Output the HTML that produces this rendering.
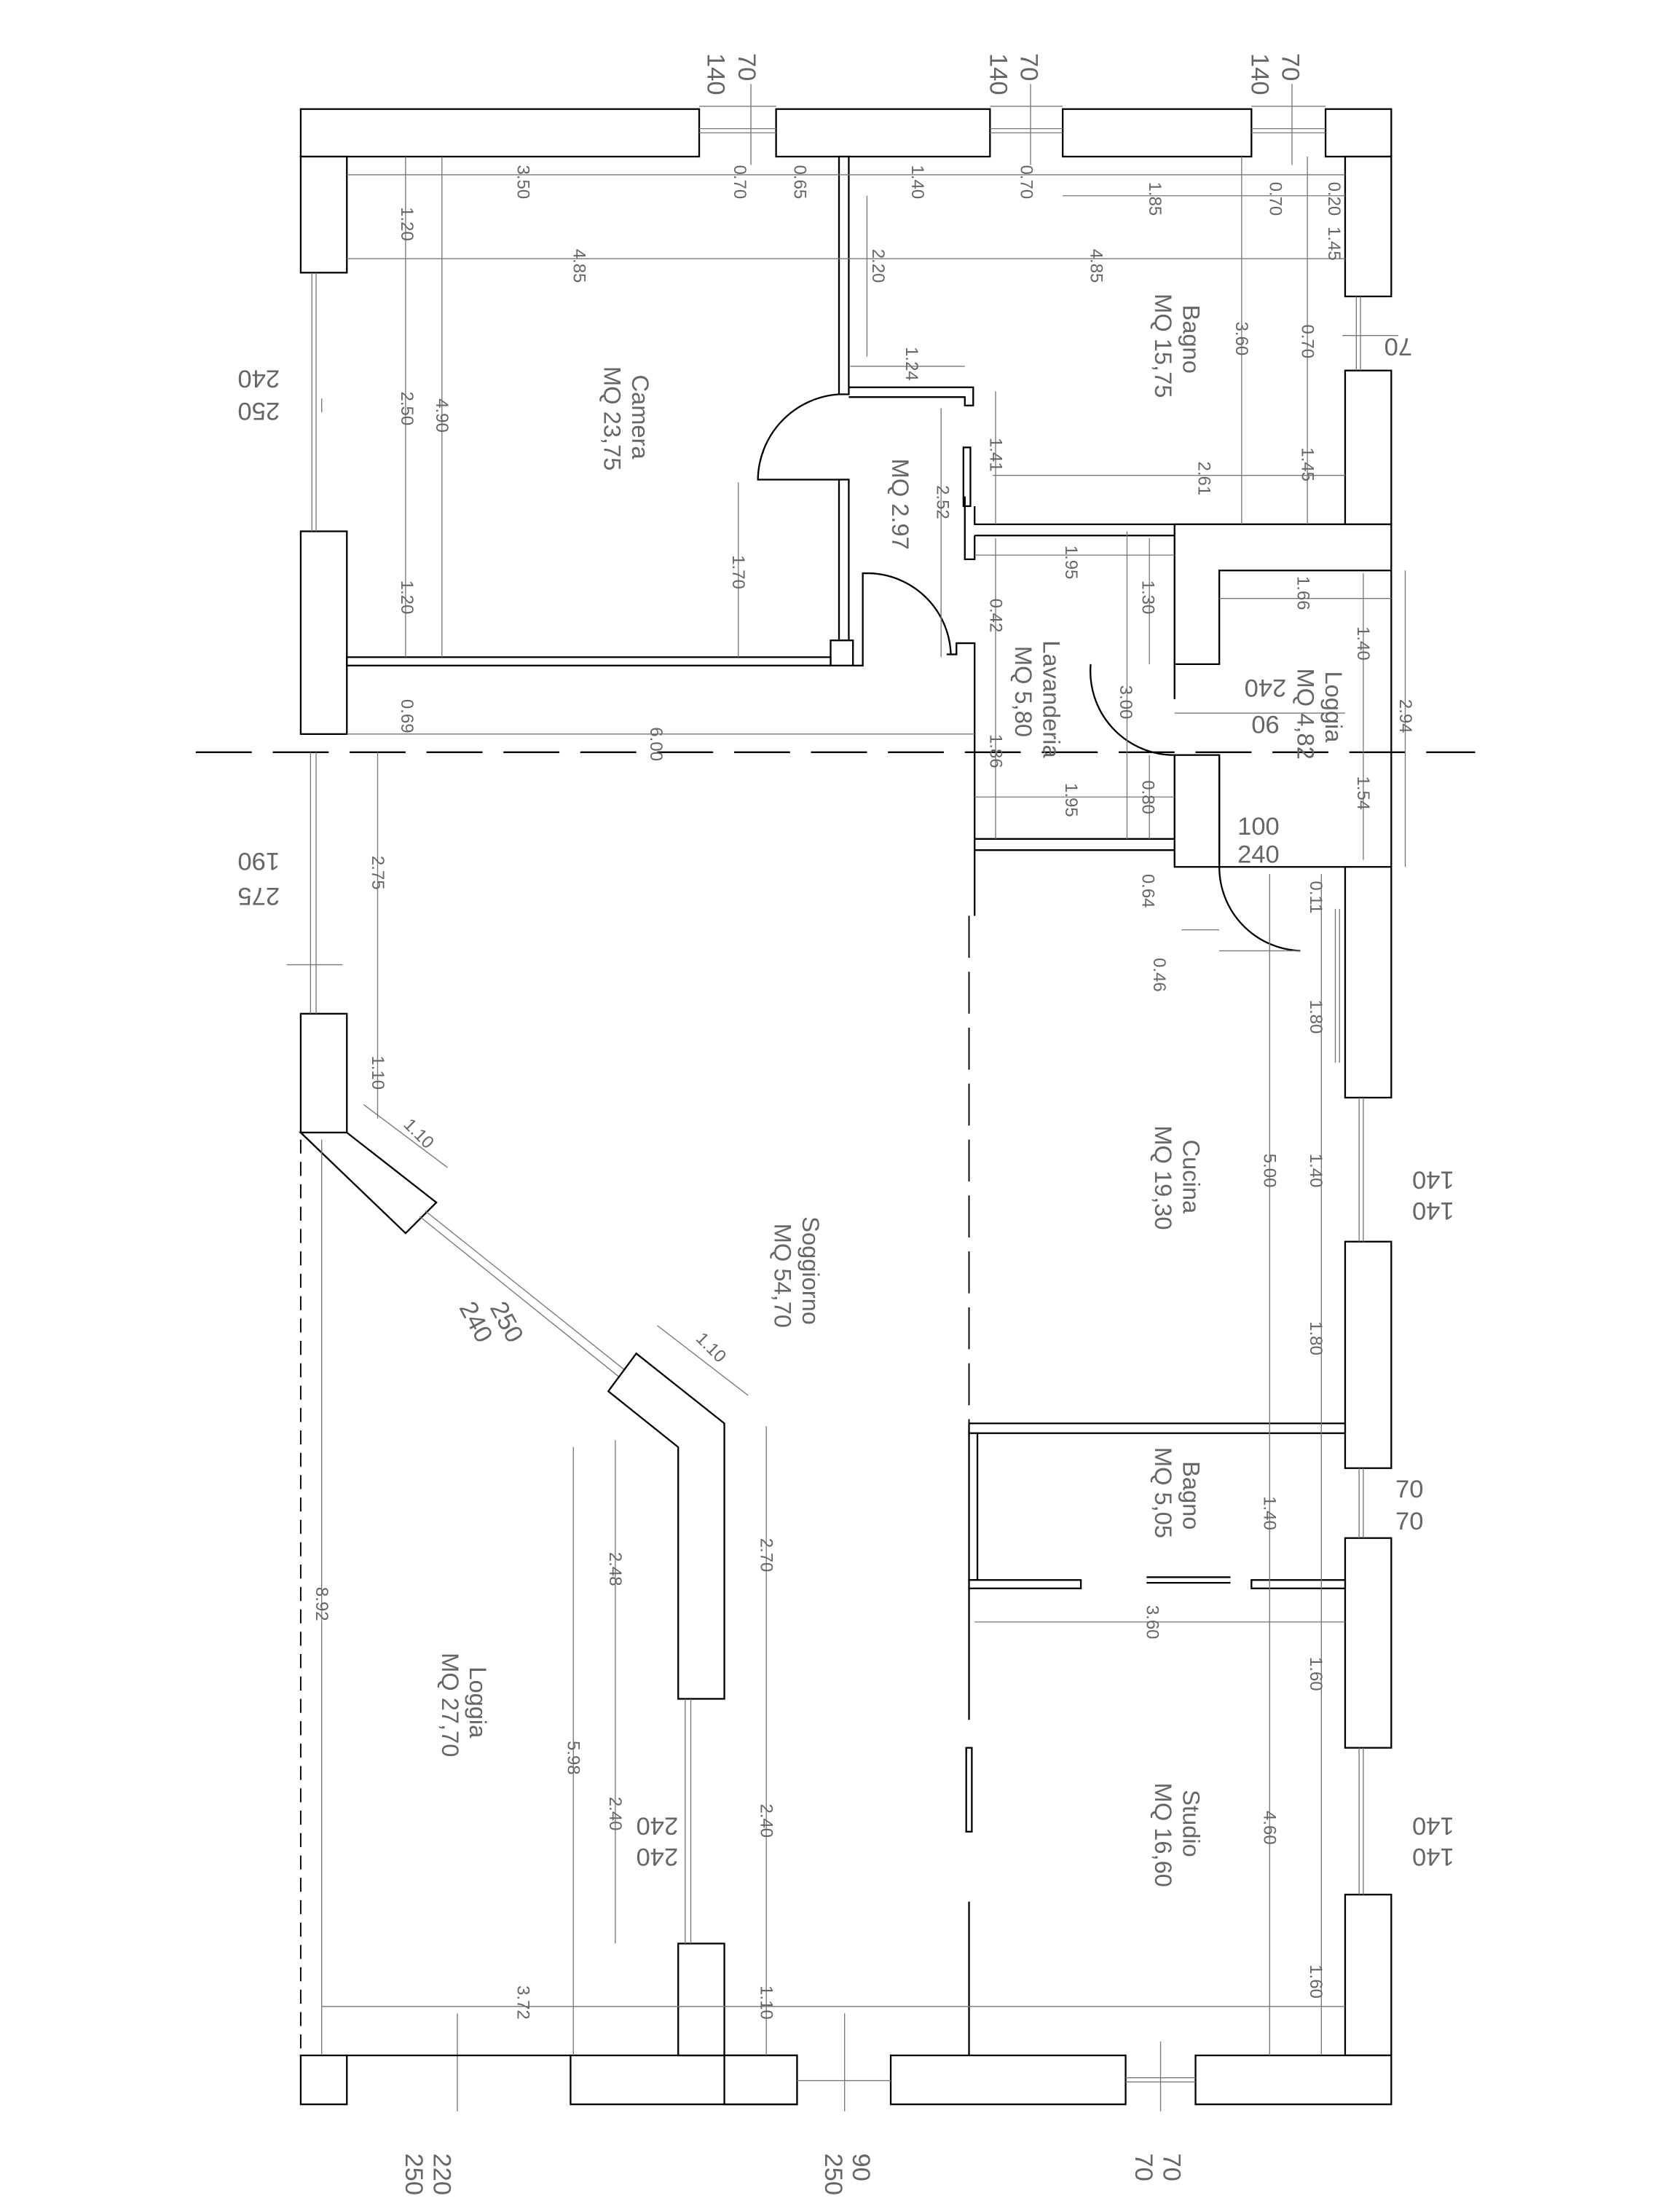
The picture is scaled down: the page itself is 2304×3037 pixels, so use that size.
<!DOCTYPE html>
<html><head><meta charset="utf-8"><style>
html,body{margin:0;padding:0;background:#fff}
svg{display:block}
text{font-family:"Liberation Sans",sans-serif;fill:#666}
.w{fill:#fff;stroke:#000;stroke-width:1.2}
.l{stroke:#000;stroke-width:1.2;fill:none}
.t{stroke:#777;stroke-width:0.7;fill:none}
.d{font-size:12.5px}
.r{font-size:17px}
.o{font-size:18px}
</style></head><body>
<svg width="2304" height="3037" viewBox="0 0 1200 1582" xmlns="http://www.w3.org/2000/svg">
<line x1="140" y1="538" x2="1055" y2="538" stroke="#000" stroke-width="1.2" stroke-dasharray="40,15"/>
<rect class="w" x="215" y="78" width="285" height="34"/>
<rect class="w" x="555" y="78" width="153" height="34"/>
<rect class="w" x="760" y="78" width="135" height="34"/>
<rect class="w" x="948" y="78" width="47" height="34"/>
<g class="t"><line x1="500" y1="92" x2="555" y2="92"/><line x1="500" y1="95" x2="555" y2="95"/><line x1="708" y1="92" x2="760" y2="92"/><line x1="708" y1="95" x2="760" y2="95"/><line x1="895" y1="92" x2="948" y2="92"/><line x1="895" y1="95" x2="948" y2="95"/>
<line x1="500" y1="76" x2="555" y2="76"/><line x1="708" y1="76" x2="760" y2="76"/><line x1="895" y1="76" x2="948" y2="76"/>
<line x1="537" y1="60" x2="537" y2="118"/><line x1="737" y1="60" x2="737" y2="118"/><line x1="924" y1="60" x2="924" y2="118"/></g>
<rect class="w" x="215" y="112" width="33" height="83"/>
<rect class="w" x="215" y="380" width="33" height="145"/>
<g class="t"><line x1="223" y1="195" x2="223" y2="380"/><line x1="226" y1="195" x2="226" y2="380"/><line x1="230" y1="285" x2="230" y2="295"/></g>
<rect class="w" x="962" y="112" width="33" height="100"/>
<rect class="w" x="962" y="265" width="33" height="110"/>
<g class="t"><line x1="970" y1="212" x2="970" y2="265"/><line x1="973" y1="212" x2="973" y2="265"/><line x1="960" y1="240" x2="1000" y2="240"/></g>
<path class="l" d="M840 375 L962 375 M840 375 L840 475 L872 475 L872 408 L995 408 L995 620"/>
<path class="l" d="M962 375 L995 375 L995 408"/>
<rect class="w" x="600" y="112" width="7" height="170"/>
<rect class="w" x="600" y="343" width="7" height="115"/>
<rect class="w" x="594" y="458" width="16" height="18"/>
<path class="l" d="M610 476 L617 476 L617 410 L622 410"/>
<rect class="w" x="248" y="470" width="346" height="6"/>
<path class="l" d="M600 282 A62 62 0 0 0 542 343 L600 343" stroke-width="0.7"/>
<path class="l" d="M622 410 A60 60 0 0 1 680 468" stroke-width="0.7"/>
<path class="l" d="M607 277 L696 277 L696 290 L690 290 L690 284 L607 284"/>
<rect class="w" x="689" y="320" width="5" height="42"/>
<path class="l" d="M697 362 L697 375 L962 375 M697 383 L840 383 M697 383 L697 400 L690 400 L690 355"/>
<path class="l" d="M677 468 L684 468 L684 460 L697 460 L697 600 L840 600 M697 608 L840 608 M697 600 L697 655"/>
<rect class="w" x="840" y="540" width="32" height="80"/>
<path class="l" d="M840 475 L840 500 M872 540 L872 620 L962 620"/>
<path class="l" d="M780 475 A60 60 0 0 0 840 540" stroke-width="0.7"/>
<path class="l" d="M872 620 A60 60 0 0 0 930 680" stroke-width="0.7"/>
<line class="t" x1="872" y1="680" x2="930" y2="680"/>
<rect class="w" x="962" y="620" width="33" height="165"/>
<rect class="w" x="962" y="888" width="33" height="162"/>
<rect class="w" x="962" y="1100" width="33" height="150"/>
<rect class="w" x="962" y="1355" width="33" height="115"/>
<g class="t"><line x1="972" y1="785" x2="972" y2="888"/><line x1="975" y1="785" x2="975" y2="888"/><line x1="972" y1="1050" x2="972" y2="1100"/><line x1="975" y1="1050" x2="975" y2="1100"/><line x1="972" y1="1250" x2="972" y2="1355"/><line x1="975" y1="1250" x2="975" y2="1355"/><line x1="955" y1="650" x2="955" y2="760"/><line x1="958" y1="650" x2="958" y2="760"/></g>
<rect class="w" x="215" y="1470" width="33" height="35"/>
<rect class="w" x="408" y="1470" width="162" height="35"/>
<rect class="w" x="637" y="1470" width="168" height="35"/>
<rect class="w" x="855" y="1470" width="140" height="35"/>
<rect class="w" x="518" y="1470" width="52" height="35"/>
<g class="t"><line x1="570" y1="1488" x2="637" y2="1488"/><line x1="805" y1="1486" x2="855" y2="1486"/><line x1="805" y1="1489" x2="855" y2="1489"/><line x1="604" y1="1440" x2="604" y2="1510"/><line x1="830" y1="1460" x2="830" y2="1510"/><line x1="327" y1="1440" x2="327" y2="1510"/></g>
<line class="l" x1="248" y1="1470" x2="408" y2="1470"/>
<rect class="w" x="215" y="725" width="33" height="85"/>
<g class="t"><line x1="222" y1="538" x2="222" y2="725"/><line x1="226" y1="538" x2="226" y2="725"/><line x1="205" y1="690" x2="245" y2="690"/></g>
<polygon class="w" points="215,810 248,810 312,860 290,882"/>
<line class="t" x1="300" y1="870" x2="443" y2="985"/><line class="t" x1="304" y1="866" x2="447" y2="980"/>
<polygon class="w" points="435,995 455,968 518,1018 518,1215 485,1215 485,1035"/>
<rect class="w" x="485" y="1390" width="33" height="80"/>
<g class="t"><line x1="490" y1="1215" x2="490" y2="1390"/><line x1="494" y1="1215" x2="494" y2="1390"/></g>
<line x1="215" y1="815" x2="215" y2="1470" stroke="#000" stroke-dasharray="10,6" stroke-width="1"/>
<line x1="693" y1="655" x2="693" y2="1020" stroke="#000" stroke-dasharray="30,10" stroke-width="1"/>
<rect class="w" x="693" y="1018" width="269" height="7"/>
<rect class="w" x="693" y="1025" width="6" height="105"/>
<rect class="w" x="693" y="1130" width="80" height="6"/>
<rect class="w" x="895" y="1130" width="67" height="6"/>
<path class="l" d="M820 1132 L880 1132 M820 1128 L880 1128"/>
<path class="l" d="M693 1136 L693 1230 M693 1360 L693 1470"/>
<rect class="w" x="691" y="1250" width="4" height="60"/>
<g class="t">
<line x1="248" y1="125" x2="962" y2="125"/>
<line x1="248" y1="185" x2="962" y2="185"/>
<line x1="620" y1="140" x2="620" y2="255"/>
<line x1="608" y1="262" x2="690" y2="262"/>
<line x1="290" y1="112" x2="290" y2="470"/>
<line x1="316" y1="112" x2="316" y2="470"/>
<line x1="528" y1="345" x2="528" y2="470"/>
<line x1="888" y1="112" x2="888" y2="375"/>
<line x1="935" y1="112" x2="935" y2="375"/>
<line x1="760" y1="140" x2="962" y2="140"/>
<line x1="710" y1="340" x2="962" y2="340"/>
<line x1="712" y1="280" x2="712" y2="375"/>
<line x1="673" y1="292" x2="673" y2="470"/>
<line x1="712" y1="385" x2="712" y2="600"/>
<line x1="697" y1="397" x2="840" y2="397"/>
<line x1="697" y1="570" x2="840" y2="570"/>
<line x1="806" y1="380" x2="806" y2="600"/>
<line x1="822" y1="385" x2="822" y2="475"/>
<line x1="822" y1="540" x2="822" y2="600"/>
<line x1="872" y1="428" x2="995" y2="428"/>
<line x1="975" y1="410" x2="975" y2="615"/>
<line x1="1005" y1="408" x2="1005" y2="620"/>
<line x1="248" y1="525" x2="697" y2="525"/>
<line x1="270" y1="538" x2="270" y2="725"/>
<line x1="270" y1="725" x2="270" y2="800"/>
<line x1="260" y1="790" x2="320" y2="835"/>
<line x1="470" y1="948" x2="535" y2="998"/>
<line x1="230" y1="1435" x2="962" y2="1435"/>
<line x1="230" y1="815" x2="230" y2="1470"/>
<line x1="410" y1="1035" x2="410" y2="1470"/>
<line x1="440" y1="1030" x2="440" y2="1390"/>
<line x1="548" y1="1020" x2="548" y2="1470"/>
<line x1="697" y1="1160" x2="962" y2="1160"/>
<line x1="908" y1="625" x2="908" y2="1470"/>
<line x1="945" y1="625" x2="945" y2="1470"/>
<line x1="845" y1="665" x2="872" y2="665"/>
<line x1="840" y1="510" x2="962" y2="510"/>
</g>
<g class="d">
<text transform="translate(370,118) rotate(90)">3.50</text>
<text transform="translate(525,118) rotate(90)">0.70</text>
<text transform="translate(568,118) rotate(90)">0.65</text>
<text transform="translate(652,118) rotate(90)">1.40</text>
<text transform="translate(730,118) rotate(90)">0.70</text>
<text transform="translate(822,130) rotate(90)">1.85</text>
<text transform="translate(908,130) rotate(90)">0.70</text>
<text transform="translate(950,130) rotate(90)">0.20</text>
<text transform="translate(950,162) rotate(90)">1.45</text>
<text transform="translate(410,178) rotate(90)">4.85</text>
<text transform="translate(780,178) rotate(90)">4.85</text>
<text transform="translate(624,178) rotate(90)">2.20</text>
<text transform="translate(648,248) rotate(90)">1.24</text>
<text transform="translate(287,148) rotate(90)">1.20</text>
<text transform="translate(287,280) rotate(90)">2.50</text>
<text transform="translate(287,415) rotate(90)">1.20</text>
<text transform="translate(312,285) rotate(90)">4.90</text>
<text transform="translate(524,397) rotate(90)">1.70</text>
<text transform="translate(884,230) rotate(90)">3.60</text>
<text transform="translate(931,232) rotate(90)">0.70</text>
<text transform="translate(931,320) rotate(90)">1.45</text>
<text transform="translate(857,330) rotate(90)">2.61</text>
<text transform="translate(708,313) rotate(90)">1.41</text>
<text transform="translate(670,347) rotate(90)">2.52</text>
<text transform="translate(708,428) rotate(90)">0.42</text>
<text transform="translate(762,390) rotate(90)">1.95</text>
<text transform="translate(817,415) rotate(90)">1.30</text>
<text transform="translate(801,490) rotate(90)">3.00</text>
<text transform="translate(928,412) rotate(90)">1.66</text>
<text transform="translate(971,448) rotate(90)">1.40</text>
<text transform="translate(971,555) rotate(90)">1.54</text>
<text transform="translate(1001,500) rotate(90)">2.94</text>
<text transform="translate(708,525) rotate(90)">1.86</text>
<text transform="translate(762,560) rotate(90)">1.95</text>
<text transform="translate(817,558) rotate(90)">0.80</text>
<text transform="translate(817,625) rotate(90)">0.64</text>
<text transform="translate(825,685) rotate(90)">0.46</text>
<text transform="translate(937,630) rotate(90)">0.11</text>
<text transform="translate(937,715) rotate(90)">1.80</text>
<text transform="translate(937,825) rotate(90)">1.40</text>
<text transform="translate(937,945) rotate(90)">1.80</text>
<text transform="translate(904,1070) rotate(90)">1.40</text>
<text transform="translate(937,1185) rotate(90)">1.60</text>
<text transform="translate(937,1405) rotate(90)">1.60</text>
<text transform="translate(904,825) rotate(90)">5.00</text>
<text transform="translate(904,1295) rotate(90)">4.60</text>
<text transform="translate(820,1148) rotate(90)">3.60</text>
<text transform="translate(465,520) rotate(90)">6.00</text>
<text transform="translate(287,500) rotate(90)">0.69</text>
<text transform="translate(266,612) rotate(90)">2.75</text>
<text transform="translate(266,755) rotate(90)">1.10</text>
<text transform="translate(288,805) rotate(45)">1.10</text>
<text transform="translate(497,958) rotate(45)">1.10</text>
<text transform="translate(226,1135) rotate(90)">8.92</text>
<text transform="translate(406,1245) rotate(90)">5.98</text>
<text transform="translate(436,1110) rotate(90)">2.48</text>
<text transform="translate(436,1285) rotate(90)">2.40</text>
<text transform="translate(544,1100) rotate(90)">2.70</text>
<text transform="translate(544,1290) rotate(90)">2.40</text>
<text transform="translate(544,1420) rotate(90)">1.10</text>
<text transform="translate(370,1420) rotate(90)">3.72</text>
</g>
<g class="r">
<text transform="translate(452,268) rotate(90)">Camera</text>
<text transform="translate(432,262) rotate(90)">MQ 23,75</text>
<text transform="translate(846,218) rotate(90)">Bagno</text>
<text transform="translate(826,210) rotate(90)">MQ 15,75</text>
<text transform="translate(638,328) rotate(90)">MQ 2.97</text>
<text transform="translate(746,458) rotate(90)">Lavanderia</text>
<text transform="translate(726,462) rotate(90)">MQ 5,80</text>
<text transform="translate(948,480) rotate(90)">Loggia</text>
<text transform="translate(928,478) rotate(90)">MQ 4,82</text>
<text transform="translate(846,815) rotate(90)">Cucina</text>
<text transform="translate(826,805) rotate(90)">MQ 19,30</text>
<text transform="translate(574,870) rotate(90)">Soggiorno</text>
<text transform="translate(554,875) rotate(90)">MQ 54,70</text>
<text transform="translate(846,1045) rotate(90)">Bagno</text>
<text transform="translate(826,1035) rotate(90)">MQ 5,05</text>
<text transform="translate(846,1280) rotate(90)">Studio</text>
<text transform="translate(826,1275) rotate(90)">MQ 16,60</text>
<text transform="translate(336,1192) rotate(90)">Loggia</text>
<text transform="translate(316,1182) rotate(90)">MQ 27,70</text>
</g>
<g class="o">
<text transform="translate(528,38) rotate(90)">70</text><text transform="translate(506,38) rotate(90)">140</text>
<text transform="translate(730,38) rotate(90)">70</text><text transform="translate(708,38) rotate(90)">140</text>
<text transform="translate(917,38) rotate(90)">70</text><text transform="translate(895,38) rotate(90)">140</text>
<text transform="translate(1010,242) rotate(180)">70</text>
<text transform="translate(200,288) rotate(180)">250</text><text transform="translate(200,265) rotate(180)">240</text>
<text transform="translate(200,635) rotate(180)">275</text><text transform="translate(200,610) rotate(180)">190</text>
<text transform="translate(920,486) rotate(180)">240</text><text transform="translate(915,512) rotate(180)">90</text>
<text x="885" y="597">100</text><text x="885" y="617">240</text>
<text transform="translate(1040,838) rotate(180)">140</text><text transform="translate(1040,860) rotate(180)">140</text>
<text x="998" y="1071">70</text><text x="998" y="1094">70</text>
<text transform="translate(1040,1300) rotate(180)">140</text><text transform="translate(1040,1322) rotate(180)">140</text>
<text transform="translate(485,1300) rotate(180)">240</text><text transform="translate(485,1322) rotate(180)">240</text>
<text transform="translate(350,935) rotate(62)">250</text><text transform="translate(328,935) rotate(62)">240</text>
<text transform="translate(310,1540) rotate(90)">220</text><text transform="translate(290,1540) rotate(90)">250</text>
<text transform="translate(610,1540) rotate(90)">90</text><text transform="translate(590,1540) rotate(90)">250</text>
<text transform="translate(832,1540) rotate(90)">70</text><text transform="translate(812,1540) rotate(90)">70</text>
</g>
</svg>
</body></html>
